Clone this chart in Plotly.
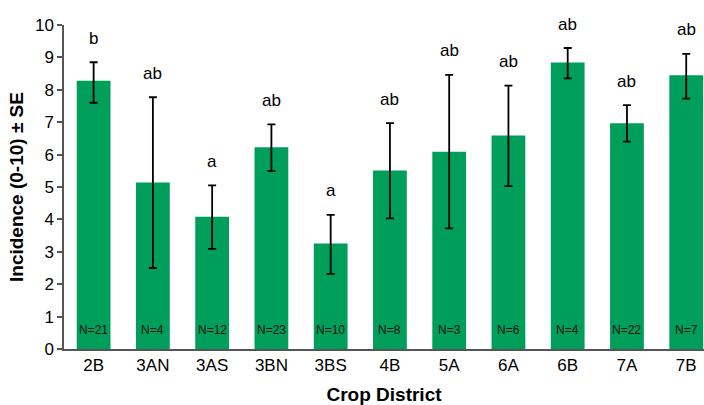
import plotly.graph_objects as go

districts = ["2B", "3AN", "3AS", "3BN", "3BS", "4B", "5A", "6A", "6B", "7A", "7B"]
incidence = [8.28, 5.14, 4.08, 6.23, 3.26, 5.51, 6.09, 6.59, 8.84, 6.97, 8.45]
se_plus = [0.57, 2.63, 0.97, 0.70, 0.88, 1.46, 2.37, 1.54, 0.45, 0.56, 0.66]
se_minus = [0.68, 2.64, 0.99, 0.74, 0.94, 1.48, 2.37, 1.56, 0.49, 0.57, 0.72]
letters = ["b", "ab", "a", "ab", "a", "ab", "ab", "ab", "ab", "ab", "ab"]
n_labels = ["N=21", "N=4", "N=12", "N=23", "N=10", "N=8", "N=3", "N=6", "N=4", "N=22", "N=7"]

green = "#009E5B"
font_family = "Liberation Sans, Arial, sans-serif"

fig = go.Figure()
fig.add_trace(go.Bar(
    x=districts, y=incidence,
    marker=dict(color=green, line=dict(width=0)),
    error_y=dict(type="data", array=se_plus, arrayminus=se_minus, symmetric=False,
                 color="black", thickness=1.8, width=4),
))

annotations = []
for d, v, sp, let, n in zip(districts, incidence, se_plus, letters, n_labels):
    annotations.append(dict(x=d, y=v + sp, text=let, showarrow=False, yanchor="middle",
                            yshift=24, font=dict(size=17, color="black", family=font_family)))
    annotations.append(dict(x=d, y=0, text=n, showarrow=False, yanchor="middle",
                            yshift=19, font=dict(size=12, color="#111111", family=font_family)))

fig.update_layout(
    width=704, height=405,
    margin=dict(l=64, r=0, t=25, b=56),
    paper_bgcolor="white", plot_bgcolor="white",
    bargap=0.43,
    showlegend=False,
    font=dict(family=font_family, color="black"),
    annotations=annotations,
    xaxis=dict(
        range=[-0.5, 10.3],
        showline=True, linecolor="#555555", linewidth=1.5,
        ticks="", tickfont=dict(size=17, color="black"),
        title=dict(text="<b>Crop District</b>", font=dict(size=19), standoff=15),
        showgrid=False,
    ),
    yaxis=dict(
        range=[0, 10], dtick=1,
        showline=True, linecolor="#555555", linewidth=1.5,
        ticks="outside", ticklen=5, tickcolor="#555555", tickwidth=1.5,
        tickfont=dict(size=17, color="black"),
        title=dict(text="<b>Incidence (0-10) ± SE</b>", font=dict(size=19), standoff=6),
        showgrid=False, zeroline=False,
    ),
)

fig.write_html("out.html", config={"displayModeBar": False},
               post_script="document.body.style.margin='0';document.body.style.overflow='hidden';")
